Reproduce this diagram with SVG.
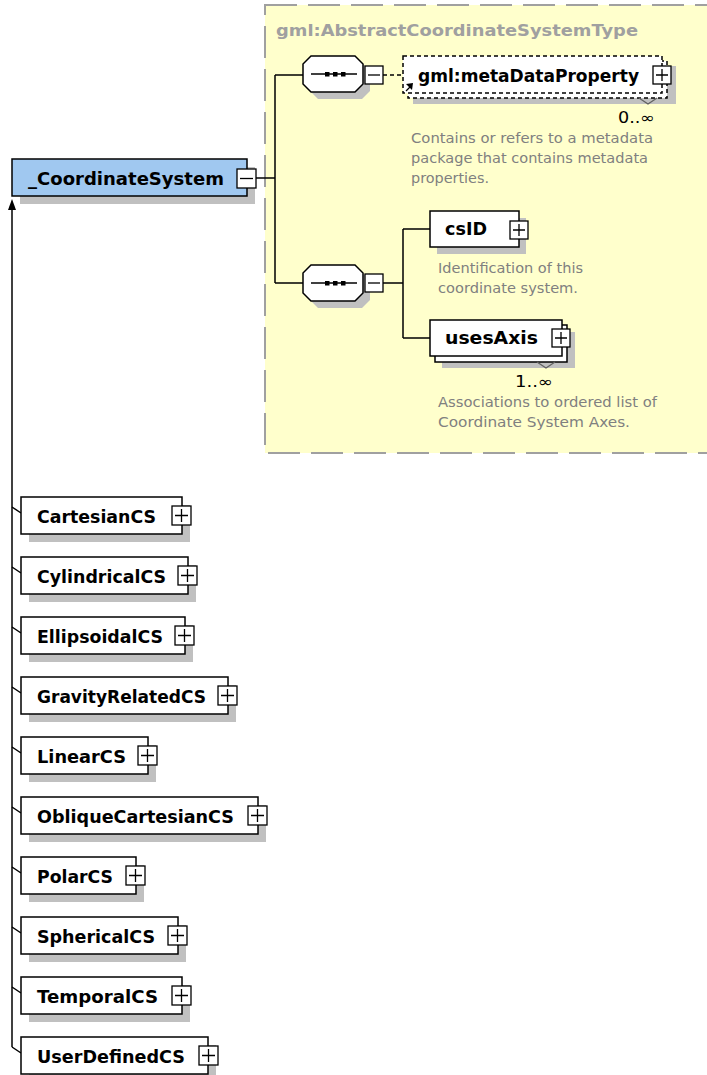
<svg xmlns="http://www.w3.org/2000/svg" width="707" height="1075" viewBox="0 0 707 1075">
<style>
.box{fill:#fff;stroke:#000;stroke-width:1.5}
.dbox{fill:#fff;stroke:#000;stroke-width:1.5;stroke-dasharray:4 3}
.sh{fill:#c0c0c0}
.lbl{font-family:"DejaVu Sans","Liberation Sans",sans-serif;font-weight:bold;font-size:17.5px;fill:#000}
.desc{font-family:"DejaVu Sans","Liberation Sans",sans-serif;font-size:14px;fill:#808080}
.mult{font-family:"DejaVu Sans","Liberation Sans",sans-serif;font-size:15px;fill:#000}
.btn{fill:#fff;stroke:#000;stroke-width:1.3}
.sym{stroke:#000;stroke-width:1.3;fill:none}
.ln{stroke:#000;stroke-width:1.5;fill:none}
</style>
<rect width="707" height="1075" fill="#fff"/>

<g id="abstractCoordinateSystemType">
<rect x="265" y="5" width="460" height="448" fill="#ffffcc" stroke="#a0a0a0" stroke-width="2" stroke-dasharray="32 11"/>
<text x="276" y="36" font-family="DejaVu Sans, Liberation Sans, sans-serif" font-weight="bold" font-size="16.5" fill="#a0a0a0" textLength="362" lengthAdjust="spacingAndGlyphs">gml:AbstractCoordinateSystemType</text>
</g>

<g id="connectors">
<path class="ln" d="M12,210 V1047"/>
<polygon points="12,199 8,210 16,210" fill="#000"/>
<path class="ln" d="M12,507 L21,513 M12,567 L21,573 M12,627 L21,633 M12,687 L21,693 M12,747 L21,753 M12,807 L21,813 M12,867 L21,873 M12,927 L21,933 M12,987 L21,993 M12,1047 L21,1053"/>
<path class="ln" d="M256,178 H275 M275,75 V283 M275,75 H303 M275,283 H303"/>
<path class="ln" d="M383,75 H403" stroke-dasharray="4 3"/>
<path class="ln" d="M383,283 H403 M403,229 V338 M403,229 H430 M403,338 H430"/>
</g>

<g id="coordinateSystem">
<rect class="sh" x="20" y="167" width="235" height="37"/>
<rect x="12" y="159" width="235" height="37" fill="#a0c8f0" stroke="#000" stroke-width="1.5"/>
<text class="lbl" x="28" y="185" textLength="196" lengthAdjust="spacingAndGlyphs">_CoordinateSystem</text>
<rect class="btn" x="237" y="169" width="19" height="19"/>
<path class="sym" d="M240,178.5 H253"/>
</g>

<g id="sequence1">
<path class="sh" d="M318,63 H362 L370,71 V91 L362,99 H318 L310,91 V71 Z"/>
<path class="box" d="M311,56 H355 L363,64 V84 L355,92 H311 L303,84 V64 Z"/>
<path class="sym" d="M311,74 H357" stroke-width="1.6"/>
<rect x="325" y="72" width="4.5" height="4.5"/><rect x="333" y="72" width="4.5" height="4.5"/><rect x="341" y="72" width="4.5" height="4.5"/>
<rect class="btn" x="365" y="66" width="18" height="18"/>
<path class="sym" d="M368,75 H380"/>
</g>

<g id="metaDataProperty">
<rect class="sh" x="413" y="66" width="263" height="38"/>
<rect class="dbox" x="408" y="61" width="259" height="37"/>
<rect class="dbox" x="403" y="56" width="259" height="37"/>
<text class="lbl" x="418" y="82" textLength="221" lengthAdjust="spacingAndGlyphs">gml:metaDataProperty</text>
<rect class="btn" x="653" y="66" width="18" height="18"/>
<path class="sym" d="M656,75 H668 M662,69 V81"/>
<path class="sym" d="M406,91 L411,86"/>
<polygon points="413,83 406,84 412,90" fill="#000"/>
<polyline points="639,98 648,104 657,98" fill="none" stroke="#606060" stroke-width="1.2"/>
<text class="mult" x="618" y="123" textLength="37" lengthAdjust="spacingAndGlyphs">0..∞</text>
<text class="desc" x="411" y="143" textLength="242" lengthAdjust="spacingAndGlyphs">Contains or refers to a metadata</text>
<text class="desc" x="411" y="163" textLength="237" lengthAdjust="spacingAndGlyphs">package that contains metadata</text>
<text class="desc" x="411" y="183" textLength="78" lengthAdjust="spacingAndGlyphs">properties.</text>
</g>

<g id="sequence2">
<path class="sh" d="M318,272 H362 L370,280 V300 L362,308 H318 L310,300 V280 Z"/>
<path class="box" d="M311,265 H355 L363,273 V293 L355,301 H311 L303,293 V273 Z"/>
<path class="sym" d="M311,283 H357" stroke-width="1.6"/>
<rect x="325" y="281" width="4.5" height="4.5"/><rect x="333" y="281" width="4.5" height="4.5"/><rect x="341" y="281" width="4.5" height="4.5"/>
<rect class="btn" x="365" y="274" width="18" height="18"/>
<path class="sym" d="M368,283 H380"/>
</g>

<g id="csID">
<rect class="sh" x="437" y="218" width="89" height="36"/>
<rect class="box" x="430" y="211" width="89" height="36"/>
<text class="lbl" x="445" y="235" textLength="42" lengthAdjust="spacingAndGlyphs">csID</text>
<rect class="btn" x="510" y="221" width="18" height="18"/>
<path class="sym" d="M513,230 H525 M519,224 V236"/>
<text class="desc" x="438" y="273" textLength="145" lengthAdjust="spacingAndGlyphs">Identification of this</text>
<text class="desc" x="438" y="293" textLength="140" lengthAdjust="spacingAndGlyphs">coordinate system.</text>
</g>

<g id="usesAxis">
<rect class="sh" x="442" y="332" width="133" height="36"/>
<rect class="box" x="435" y="325" width="132" height="37"/>
<rect class="box" x="430" y="320" width="132" height="36"/>
<text class="lbl" x="445" y="344" textLength="93" lengthAdjust="spacingAndGlyphs">usesAxis</text>
<rect class="btn" x="552" y="329" width="18" height="18"/>
<path class="sym" d="M555,338 H567 M561,332 V344"/>
<polyline points="537,362 546,368 555,362" fill="none" stroke="#606060" stroke-width="1.2"/>
<text class="mult" x="515" y="387" textLength="38" lengthAdjust="spacingAndGlyphs">1..∞</text>
<text class="desc" x="438" y="407" textLength="219" lengthAdjust="spacingAndGlyphs">Associations to ordered list of</text>
<text class="desc" x="438" y="427" textLength="192" lengthAdjust="spacingAndGlyphs">Coordinate System Axes.</text>
</g>

<g id="CartesianCS">
<rect class="sh" x="29" y="505" width="161" height="37"/>
<rect class="box" x="21" y="497" width="161" height="37"/>
<text class="lbl" x="37" y="523" textLength="119" lengthAdjust="spacingAndGlyphs">CartesianCS</text>
<rect class="btn" x="172" y="506" width="19" height="19"/>
<path class="sym" d="M175,515.5 H188 M181.5,509 V522"/>
</g>

<g id="CylindricalCS">
<rect class="sh" x="29" y="565" width="167" height="37"/>
<rect class="box" x="21" y="557" width="167" height="37"/>
<text class="lbl" x="37" y="583" textLength="129" lengthAdjust="spacingAndGlyphs">CylindricalCS</text>
<rect class="btn" x="178" y="566" width="19" height="19"/>
<path class="sym" d="M181,575.5 H194 M187.5,569 V582"/>
</g>

<g id="EllipsoidalCS">
<rect class="sh" x="29" y="625" width="164" height="37"/>
<rect class="box" x="21" y="617" width="164" height="37"/>
<text class="lbl" x="37" y="643" textLength="126" lengthAdjust="spacingAndGlyphs">EllipsoidalCS</text>
<rect class="btn" x="175" y="626" width="19" height="19"/>
<path class="sym" d="M178,635.5 H191 M184.5,629 V642"/>
</g>

<g id="GravityRelatedCS">
<rect class="sh" x="29" y="685" width="207" height="37"/>
<rect class="box" x="21" y="677" width="207" height="37"/>
<text class="lbl" x="37" y="703" textLength="169" lengthAdjust="spacingAndGlyphs">GravityRelatedCS</text>
<rect class="btn" x="218" y="686" width="19" height="19"/>
<path class="sym" d="M221,695.5 H234 M227.5,689 V702"/>
</g>

<g id="LinearCS">
<rect class="sh" x="29" y="745" width="127" height="37"/>
<rect class="box" x="21" y="737" width="127" height="37"/>
<text class="lbl" x="37" y="763" textLength="89" lengthAdjust="spacingAndGlyphs">LinearCS</text>
<rect class="btn" x="138" y="746" width="19" height="19"/>
<path class="sym" d="M141,755.5 H154 M147.5,749 V762"/>
</g>

<g id="ObliqueCartesianCS">
<rect class="sh" x="29" y="805" width="237" height="37"/>
<rect class="box" x="21" y="797" width="237" height="37"/>
<text class="lbl" x="37" y="823" textLength="197" lengthAdjust="spacingAndGlyphs">ObliqueCartesianCS</text>
<rect class="btn" x="248" y="806" width="19" height="19"/>
<path class="sym" d="M251,815.5 H264 M257.5,809 V822"/>
</g>

<g id="PolarCS">
<rect class="sh" x="29" y="865" width="115" height="37"/>
<rect class="box" x="21" y="857" width="115" height="37"/>
<text class="lbl" x="37" y="883" textLength="76" lengthAdjust="spacingAndGlyphs">PolarCS</text>
<rect class="btn" x="126" y="866" width="19" height="19"/>
<path class="sym" d="M129,875.5 H142 M135.5,869 V882"/>
</g>

<g id="SphericalCS">
<rect class="sh" x="29" y="925" width="157" height="37"/>
<rect class="box" x="21" y="917" width="157" height="37"/>
<text class="lbl" x="37" y="943" textLength="118" lengthAdjust="spacingAndGlyphs">SphericalCS</text>
<rect class="btn" x="168" y="926" width="19" height="19"/>
<path class="sym" d="M171,935.5 H184 M177.5,929 V942"/>
</g>

<g id="TemporalCS">
<rect class="sh" x="29" y="985" width="161" height="37"/>
<rect class="box" x="21" y="977" width="161" height="37"/>
<text class="lbl" x="37" y="1003" textLength="121" lengthAdjust="spacingAndGlyphs">TemporalCS</text>
<rect class="btn" x="172" y="986" width="19" height="19"/>
<path class="sym" d="M175,995.5 H188 M181.5,989 V1002"/>
</g>

<g id="UserDefinedCS">
<rect class="sh" x="29" y="1045" width="187" height="37"/>
<rect class="box" x="21" y="1037" width="187" height="37"/>
<text class="lbl" x="37" y="1063" textLength="148" lengthAdjust="spacingAndGlyphs">UserDefinedCS</text>
<rect class="btn" x="199" y="1046" width="19" height="19"/>
<path class="sym" d="M202,1055.5 H215 M208.5,1049 V1062"/>
</g>
</svg>
